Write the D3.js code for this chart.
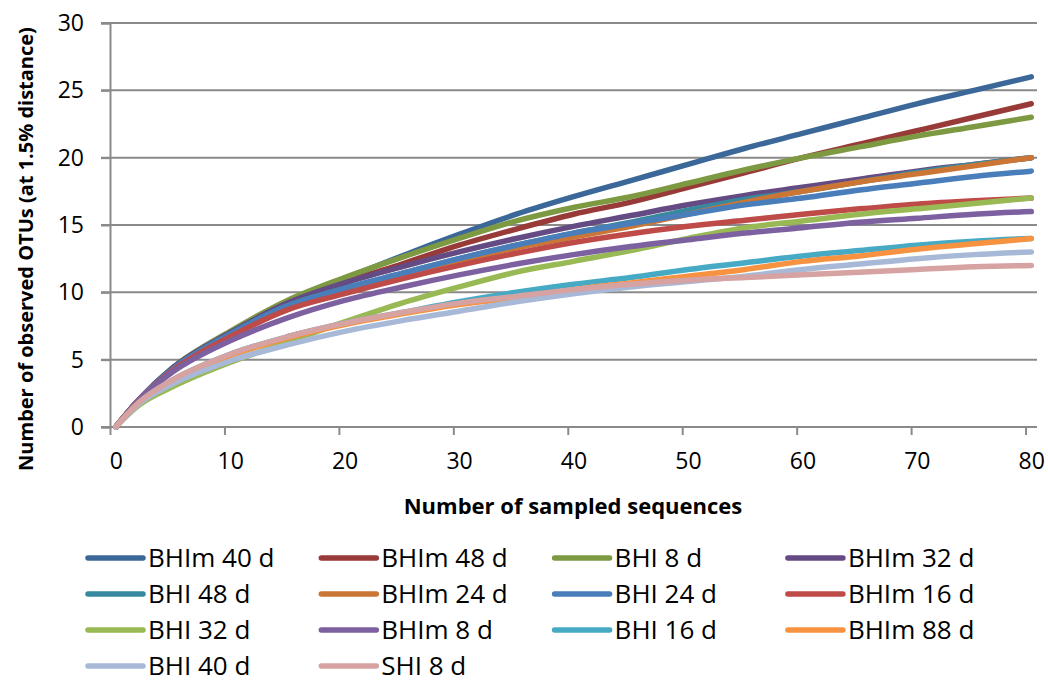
<!DOCTYPE html>
<html>
<head>
<meta charset="utf-8">
<script src="https://cdn.jsdelivr.net/npm/d3@7"></script>
<style>
  body { margin: 0; background: #fff; }
  svg { display: block; font-family: "Open Sans", sans-serif; }
</style>
</head>
<body>
<script>
(function () {
  "use strict";
  var w = 1048,
      h = 684;

  // sample sizes (categories) at which the curves were read
  var samples = [0, 2, 5, 10, 15, 20, 25, 30, 35, 40, 45, 50, 55, 60, 65, 70, 75, 80];

  var bhim40 = [0, 2.0, 4.4, 7.0, 9.2, 11.0, 12.7, 14.3, 15.8, 17.1, 18.3, 19.5, 20.7, 21.8, 22.9, 24.0, 25.0, 26.0];
  var bhim48 = [0, 2.0, 4.3, 6.9, 9.1, 10.7, 12.1, 13.5, 14.7, 15.8, 16.7, 17.8, 18.9, 20.0, 21.0, 22.0, 23.0, 24.0];
  var bhi8   = [0, 2.0, 4.4, 7.1, 9.4, 11.1, 12.6, 14.0, 15.3, 16.3, 17.1, 18.1, 19.1, 20.0, 20.8, 21.6, 22.3, 23.0];
  var bhim32 = [0, 2.0, 4.4, 7.0, 9.2, 10.7, 11.9, 13.0, 14.0, 14.9, 15.7, 16.5, 17.2, 17.8, 18.4, 19.0, 19.5, 20.0];
  var bhi48  = [0, 2.0, 4.3, 6.9, 9.0, 10.3, 11.4, 12.5, 13.5, 14.4, 15.2, 16.1, 16.9, 17.5, 18.2, 18.9, 19.5, 20.0];
  var bhim24 = [0, 2.0, 4.2, 6.8, 8.8, 10.1, 11.2, 12.3, 13.3, 14.1, 14.9, 15.8, 16.7, 17.5, 18.2, 18.8, 19.4, 20.0];
  var bhi24  = [0, 2.0, 4.3, 6.9, 9.0, 10.3, 11.4, 12.5, 13.5, 14.4, 15.1, 15.8, 16.5, 17.0, 17.6, 18.1, 18.6, 19.0];
  var bhim16 = [0, 2.0, 4.2, 6.7, 8.7, 9.9, 11.0, 12.0, 12.9, 13.7, 14.35, 14.9, 15.35, 15.8, 16.2, 16.55, 16.8, 17.0];
  var bhi32  = [0, 1.6, 3.0, 4.8, 6.3, 7.8, 9.2, 10.4, 11.5, 12.3, 13.1, 14.0, 14.8, 15.3, 15.8, 16.2, 16.6, 17.0];
  var bhim8  = [0, 2.0, 4.1, 6.4, 8.1, 9.4, 10.4, 11.3, 12.1, 12.8, 13.4, 13.9, 14.4, 14.8, 15.2, 15.5, 15.8, 16.0];
  var bhi16  = [0, 1.8, 3.5, 5.4, 6.7, 7.7, 8.5, 9.3, 10.0, 10.6, 11.1, 11.7, 12.2, 12.7, 13.1, 13.5, 13.8, 14.0];
  var bhim88 = [0, 1.8, 3.5, 5.3, 6.6, 7.6, 8.4, 9.1, 9.6, 10.2, 10.7, 11.2, 11.7, 12.3, 12.7, 13.2, 13.6, 14.0];
  var bhi40  = [0, 1.7, 3.2, 4.9, 6.1, 7.1, 7.9, 8.6, 9.3, 9.9, 10.4, 10.8, 11.2, 11.7, 12.1, 12.5, 12.8, 13.0];
  var shi8   = [0, 1.8, 3.5, 5.4, 6.7, 7.7, 8.5, 9.2, 9.7, 10.2, 10.6, 10.9, 11.1, 11.3, 11.5, 11.7, 11.9, 12.0];

  var names = ["BHIm 40 d", "BHIm 48 d", "BHI 8 d", "BHIm 32 d",
               "BHI 48 d", "BHIm 24 d", "BHI 24 d", "BHIm 16 d",
               "BHI 32 d", "BHIm 8 d", "BHI 16 d", "BHIm 88 d",
               "BHI 40 d", "SHI 8 d"];
  var values = [bhim40, bhim48, bhi8, bhim32, bhi48, bhim24, bhi24,
                bhim16, bhi32, bhim8, bhi16, bhim88, bhi40, shi8];
  var colors = ["#3b6899", "#983a37", "#7d9a43", "#654b84", "#37899f", "#cb7634",
                "#4a7ebb", "#be4b48", "#98b954", "#7d60a0", "#46aac5", "#f69240",
                "#a7b9d7", "#d6a3a2"];

  var xTicks = [0, 10, 20, 30, 40, 50, 60, 70, 80];
  var yTicks = [0, 5, 10, 15, 20, 25, 30];

  var left = 110, right = 1037, top = 23, bottom = 427;
  var grey = "#8a8a8a";

  var svg = d3.select("body")
              .append("svg")
              .attr("width", w)
              .attr("height", h);

  // category axis: 81 categories, ticks between them, labels centred
  var x = d3.scaleLinear().domain([-0.5, 80.5]).range([left, right]);
  var y = d3.scaleLinear().domain([0, 30]).range([bottom, top]);

  // gridlines
  svg.append("g")
     .selectAll("line")
     .data(yTicks)
     .enter()
     .append("line")
     .attr("x1", left - 9)
     .attr("x2", right)
     .attr("y1", d => y(d))
     .attr("y2", d => y(d))
     .attr("stroke", grey)
     .attr("stroke-width", 2);

  var yAxis = svg.append("g")
                 .attr("transform", "translate(" + left + ",0)")
                 .call(d3.axisLeft(y).tickValues(yTicks).tickSize(9).tickPadding(17));
  yAxis.select(".domain").attr("stroke", grey).attr("stroke-width", 2);
  yAxis.selectAll(".tick line").attr("stroke", grey).attr("stroke-width", 2);
  yAxis.selectAll("text")
       .attr("font-family", "Open Sans")
       .attr("font-size", 23)
       .attr("fill", "#000");

  var xAxis = svg.append("g")
                 .attr("transform", "translate(0," + bottom + ")")
                 .call(d3.axisBottom(x).tickValues(xTicks.map(d => d - 0.5))
                         .tickSize(8).tickFormat(""));
  xAxis.select(".domain").attr("stroke", grey).attr("stroke-width", 2)
       .attr("d", "M" + left + ",0H" + right);
  xAxis.selectAll(".tick line").attr("stroke", grey).attr("stroke-width", 2);

  var xLabels = svg.append("g")
                   .attr("transform", "translate(0," + bottom + ")")
                   .call(d3.axisBottom(x).tickValues(xTicks).tickSize(0).tickPadding(26));
  xLabels.select(".domain").remove();
  xLabels.selectAll("text")
         .attr("font-family", "Open Sans")
         .attr("font-size", 23)
         .attr("fill", "#000");

  // curves, first series drawn first
  var line = d3.line()
               .x(d => x(d[0]))
               .y(d => y(d[1]))
               .curve(d3.curveMonotoneX);

  svg.append("g")
     .selectAll("path")
     .data(values)
     .enter()
     .append("path")
     .attr("d", v => line(v.map((d, i) => [samples[i], d])))
     .attr("fill", "none")
     .attr("stroke", (v, i) => colors[i])
     .attr("stroke-width", 5.5)
     .attr("stroke-linecap", "round")
     .attr("stroke-linejoin", "round");

  // axis titles
  svg.append("text")
     .attr("x", 573)
     .attr("y", 514)
     .attr("text-anchor", "middle")
     .attr("font-size", 22)
     .attr("font-weight", "bold")
     .text("Number of sampled sequences");

  svg.append("text")
     .attr("transform", "translate(33,249) rotate(-90)")
     .attr("text-anchor", "middle")
     .attr("font-size", 20)
     .attr("font-weight", "bold")
     .text("Number of observed OTUs (at 1.5% distance)");

  // legend, 4 columns
  var legend = svg.append("g")
                  .selectAll("g")
                  .data(names)
                  .enter()
                  .append("g")
                  .attr("transform", (d, i) => "translate(" + (88 + (i % 4) * 233.3) + "," + (558 + Math.floor(i / 4) * 36) + ")");
  legend.append("line")
        .attr("x1", 0)
        .attr("x2", 55)
        .attr("stroke", (d, i) => colors[i])
        .attr("stroke-width", 5.5)
        .attr("stroke-linecap", "round");
  legend.append("text")
        .attr("x", 60)
        .attr("dy", "0.35em")
        .attr("font-size", 26)
        .text(d => d);
})();
</script>
</body>
</html>
